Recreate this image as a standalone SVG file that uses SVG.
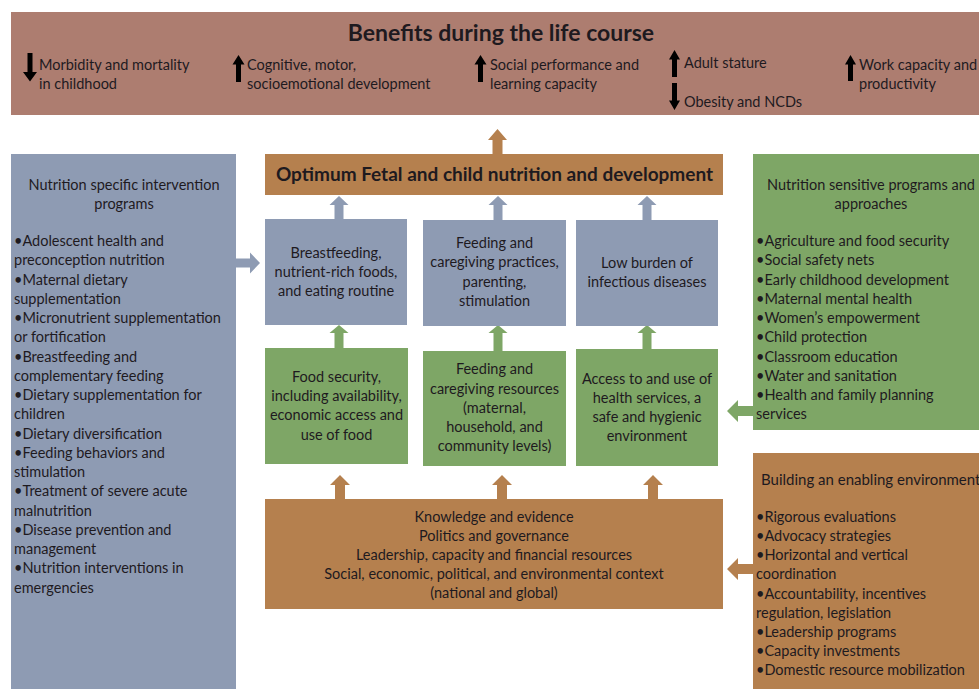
<svg xmlns="http://www.w3.org/2000/svg" width="979" height="689" viewBox="0 0 979 689">
<style>
text{font-family:Lato,"Noto Sans",sans-serif;font-size:14.5px;fill:#1e1a1f}
.c{text-anchor:middle}
.t{font-weight:bold}
.blue{fill:#8e9bb3}
.green{fill:#7ea666}
.orange{fill:#b5804e}
.rose{fill:#ad7d70}
.blk{fill:#000}
</style>
<rect width="979" height="689" fill="#fff"/>

<g id="benefits">
<rect class="rose" x="11" y="12" width="968" height="103"/>
<text class="c t" x="501" y="41" style="font-size:23px">Benefits during the life course</text>
<path class="blk" d="M27.5,53h5v19h4.5l-7,9.5l-7,-9.5h4.5z"/>
<text x="39" y="70">Morbidity and mortality</text><text x="39" y="89">in childhood</text>
<path class="blk" d="M238.5,55l6,9.5h-3.5v17.5h-5v-17.5h-3.5z"/>
<text x="247" y="70">Cognitive, motor,</text><text x="247" y="89">socioemotional development</text>
<path class="blk" d="M480.5,55l6,9.5h-3.5v17.5h-5v-17.5h-3.5z"/>
<text x="490" y="70">Social performance and</text><text x="490" y="89">learning capacity</text>
<path class="blk" d="M674.5,50l5.5,9.5h-3v17.5h-5v-17.5h-3z"/>
<text x="684" y="68">Adult stature</text>
<path class="blk" d="M672,83h5v17.5h3l-5.5,9.5l-5.5,-9.5h3z"/>
<text x="684" y="107">Obesity and NCDs</text>
<path class="blk" d="M850.5,55l5.5,9.5h-3v16.5h-5v-16.5h-3z"/>
<text x="859" y="70">Work capacity and</text><text x="859" y="89">productivity</text>
</g>

<g id="connectors">
<path class="orange" d="M497.5,129l9.5,11h-4.5v14h-10v-14h-4.5z"/>
<path class="blue" d="M339,196l9.5,9h-5v14h-9v-14h-5z"/>
<path class="blue" d="M498,196l9.5,9h-5v15h-9v-15h-5z"/>
<path class="blue" d="M647,196l9.5,9h-5v15h-9v-15h-5z"/>
<path class="green" d="M339,325l9.5,8h-5v15h-9v-15h-5z"/>
<path class="green" d="M498,325l9.5,8h-5v18h-9v-18h-5z"/>
<path class="green" d="M647,325l9.5,8h-5v16h-9v-16h-5z"/>
<path class="orange" d="M340,475l10,10h-5v14h-10v-14h-5z"/>
<path class="orange" d="M502,475l10,10h-5v14h-10v-14h-5z"/>
<path class="orange" d="M653,475l10,10h-5v14h-10v-14h-5z"/>
<path class="blue" d="M236,258.5h14v-6l10,10.5l-10,10.5v-6h-14z"/>
<path class="green" d="M753,406h-15v-6l-11,11l11,11v-6h15z"/>
<path class="orange" d="M753,564h-15v-6l-11,11l11,11v-6h15z"/>
</g>

<g id="optimum">
<rect class="orange" x="265" y="154" width="458" height="41"/>
<text class="c t" x="494.5" y="181" style="font-size:19px">Optimum Fetal and child nutrition and development</text>
</g>

<g id="breastfeeding">
<rect class="blue" x="265" y="219" width="142" height="106"/>
<text class="c" x="336" y="258">Breastfeeding,</text>
<text class="c" x="336" y="277">nutrient-rich foods,</text>
<text class="c" x="336" y="296">and eating routine</text>
</g>
<g id="feeding-practices">
<rect class="blue" x="423" y="220" width="143" height="106"/>
<text class="c" x="494.5" y="248">Feeding and</text>
<text class="c" x="494.5" y="267">caregiving practices,</text>
<text class="c" x="494.5" y="287">parenting,</text>
<text class="c" x="494.5" y="306">stimulation</text>
</g>
<g id="low-burden">
<rect class="blue" x="576" y="220" width="142" height="106"/>
<text class="c" x="647" y="268">Low burden of</text>
<text class="c" x="647" y="287">infectious diseases</text>
</g>

<g id="food-security">
<rect class="green" x="265" y="348" width="143" height="116"/>
<text class="c" x="336.5" y="382">Food security,</text>
<text class="c" x="336.5" y="401">including availability,</text>
<text class="c" x="336.5" y="420">economic access and</text>
<text class="c" x="336.5" y="440">use of food</text>
</g>
<g id="feeding-resources">
<rect class="green" x="423" y="351" width="143" height="115"/>
<text class="c" x="494.5" y="374">Feeding and</text>
<text class="c" x="494.5" y="394">caregiving resources</text>
<text class="c" x="494.5" y="413">(maternal,</text>
<text class="c" x="494.5" y="432">household, and</text>
<text class="c" x="494.5" y="451">community levels)</text>
</g>
<g id="health-access">
<rect class="green" x="576" y="349" width="142" height="117"/>
<text class="c" x="647" y="384">Access to and use of</text>
<text class="c" x="647" y="403">health services, a</text>
<text class="c" x="647" y="422">safe and hygienic</text>
<text class="c" x="647" y="441">environment</text>
</g>

<g id="context">
<rect class="orange" x="265" y="499" width="458" height="110"/>
<text class="c" x="494" y="522">Knowledge and evidence</text>
<text class="c" x="494" y="541">Politics and governance</text>
<text class="c" x="494" y="560">Leadership, capacity and financial resources</text>
<text class="c" x="494" y="579">Social, economic, political, and environmental context</text>
<text class="c" x="494" y="598">(national and global)</text>
</g>

<g id="specific">
<rect class="blue" x="11" y="154" width="225" height="535"/>
<text class="c" x="124" y="190">Nutrition specific intervention</text>
<text class="c" x="124" y="209">programs</text>
<text x="14" y="246">•Adolescent health and</text>
<text x="14" y="265">preconception nutrition</text>
<text x="14" y="285">•Maternal dietary</text>
<text x="14" y="304">supplementation</text>
<text x="14" y="323">•Micronutrient supplementation</text>
<text x="14" y="342">or fortification</text>
<text x="14" y="362">•Breastfeeding and</text>
<text x="14" y="381">complementary feeding</text>
<text x="14" y="400">•Dietary supplementation for</text>
<text x="14" y="419">children</text>
<text x="14" y="439">•Dietary diversification</text>
<text x="14" y="458">•Feeding behaviors and</text>
<text x="14" y="477">stimulation</text>
<text x="14" y="496">•Treatment of severe acute</text>
<text x="14" y="516">malnutrition</text>
<text x="14" y="535">•Disease prevention and</text>
<text x="14" y="554">management</text>
<text x="14" y="573">•Nutrition interventions in</text>
<text x="14" y="593">emergencies</text>
</g>

<g id="sensitive">
<rect class="green" x="753" y="154" width="226" height="276"/>
<text class="c" x="871" y="190">Nutrition sensitive programs and</text>
<text class="c" x="871" y="209">approaches</text>
<text x="756" y="246">•Agriculture and food security</text>
<text x="756" y="265">•Social safety nets</text>
<text x="756" y="285">•Early childhood development</text>
<text x="756" y="304">•Maternal mental health</text>
<text x="756" y="323">•Women’s empowerment</text>
<text x="756" y="342">•Child protection</text>
<text x="756" y="362">•Classroom education</text>
<text x="756" y="381">•Water and sanitation</text>
<text x="756" y="400">•Health and family planning</text>
<text x="756" y="419">services</text>
</g>

<g id="enabling">
<rect class="orange" x="753" y="453" width="226" height="236"/>
<text x="761" y="485" style="font-size:15px">Building an enabling environment</text>
<text x="756" y="522">•Rigorous evaluations</text>
<text x="756" y="541">•Advocacy strategies</text>
<text x="756" y="560">•Horizontal and vertical</text>
<text x="756" y="579">coordination</text>
<text x="756" y="599">•Accountability, incentives</text>
<text x="756" y="618">regulation, legislation</text>
<text x="756" y="637">•Leadership programs</text>
<text x="756" y="656">•Capacity investments</text>
<text x="756" y="675">•Domestic resource mobilization</text>
</g>
</svg>
